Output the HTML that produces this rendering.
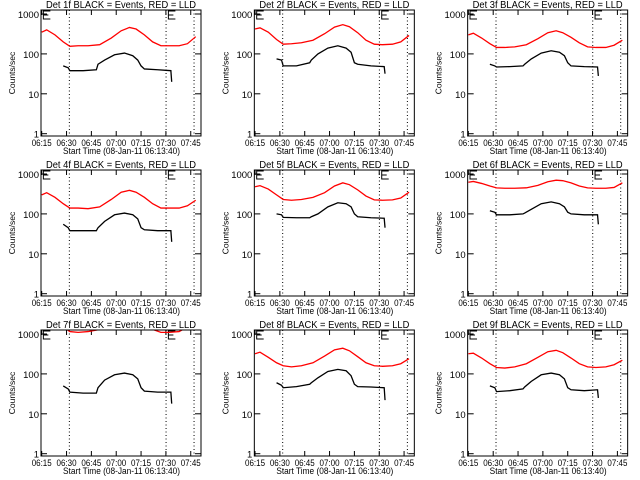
<!DOCTYPE html>
<html><head><meta charset="utf-8"><style>
html,body{margin:0;padding:0;background:#fff;}
svg{display:block;font-family:"Liberation Sans",sans-serif;}
</style></head><body>
<svg id="c" width="640" height="480" viewBox="0 0 640 480"></svg>
<script>
const detLabels = ["1f","2f","3f","4f","5f","6f","7f","8f","9f"];
const redTimes = [0,3,8,13,17,22,28,35,42,48,53,57,62,67,72,77,83,88,93];
const blackTimes = [13,16,17,25,33,34,38,44,50,55,58,60,62,70,78,78.5];
const red1 = [350,400,300,200,155,160,160,170,250,380,460,420,300,200,160,160,160,180,270];
const black1 = [50,45,38,38,40,55,70,95,105,90,70,50,42,40,38,20];
const red2 = [420,450,350,230,175,180,190,220,320,470,540,480,340,220,175,170,175,200,290];
const black2 = [75,70,50,50,60,70,100,140,160,140,110,60,55,50,48,32];
const red3 = [300,330,250,180,145,145,150,170,240,340,380,340,260,190,150,145,145,165,220];
const black3 = [55,50,47,48,50,55,75,105,120,110,90,60,50,48,47,28];
const red4 = [300,340,260,180,140,140,135,150,230,350,390,350,260,180,140,140,140,160,220];
const black4 = [55,45,38,38,38,45,65,95,105,95,75,45,40,38,38,20];
const red5 = [480,510,420,300,230,220,230,260,340,500,600,540,400,280,225,220,225,250,350];
const black5 = [100,95,82,80,80,85,100,150,190,180,150,100,85,80,78,45];
const red6 = [620,650,580,500,450,440,440,450,520,640,700,680,600,500,450,440,440,460,600];
const black6 = [120,110,95,95,100,105,130,180,200,180,150,110,100,95,95,55];
const red7 = [3000,3000,2000,1500,1150,1100,1150,1300,2000,3000,4000,3000,2000,1300,1100,1100,1150,1500,2500];
const black7 = [50,42,35,33,33,45,70,95,105,95,75,45,37,35,35,18];
const red8 = [320,350,260,190,160,150,160,190,280,400,440,380,270,190,160,155,160,180,240];
const black8 = [60,52,45,48,55,60,80,115,130,120,90,55,48,47,45,22];
const red9 = [320,330,250,180,145,140,150,180,260,360,390,340,250,180,150,145,150,170,220];
const black9 = [50,45,36,38,42,47,65,95,105,95,75,45,40,38,40,25];
const xTickMinutes = [0,15,30,45,60,75,90];
const xTickLabels = ["06:15","06:30","06:45","07:00","07:15","07:30","07:45"];
const yTickValues = [1,10,100,1000];
const yTickLabels = ["1","10","100","1000"];
const dottedMinutes = [16.7,75.1,92];
const eMarkMinutes = [1,76.5];

const reds=[red1,red2,red3,red4,red5,red6,red7,red8,red9];
const blacks=[black1,black2,black3,black4,black5,black6,black7,black8,black9];
const NS="http://www.w3.org/2000/svg";
const svg=document.getElementById('c');
function mk(tag,attrs,parent){const e=document.createElementNS(NS,tag);for(const k in attrs)e.setAttribute(k,attrs[k]);(parent||svg).appendChild(e);return e;}

for(let p=0;p<9;p++){
  const ox=(p%3)*213.33, oy=Math.floor(p/3)*160;
  const L=ox+41,R=ox+201,T=oy+10,B=oy+136;
  const xs=m=>ox+41.7+m*1.656;
  const ys=v=>oy+133.7-(Math.log10(v))*39.9;
  const g=mk('g',{});
  
  
  const cp=mk('clipPath',{id:'cp'+p},g);mk('rect',{x:L,y:T,width:R-L,height:B-T},cp);
  const t=mk('text',{x:(L+R)/2,y:oy+8,'text-anchor':'middle','font-size':10,textLength:150,lengthAdjust:'spacingAndGlyphs'},g);
  t.textContent='Det '+detLabels[p]+' BLACK = Events, RED = LLD';
  
  
  const yl=mk('text',{x:0,y:0,'text-anchor':'middle','font-size':8.5,transform:`translate(${ox+15},${oy+73}) rotate(-90)`},g);
  yl.textContent='Counts/sec';
  
  
  const xl=mk('text',{x:ox+121.5,y:oy+154,'text-anchor':'middle','font-size':9,textLength:117,lengthAdjust:'spacingAndGlyphs'},g);
  xl.textContent='Start Time (08-Jan-11 06:13:40)';
  
  
  xTickMinutes.forEach((m,i)=>{const x=xs(m);
    mk('line',{x1:x,x2:x,y1:B,y2:B-5,stroke:'#000'},g);
    mk('line',{x1:x,x2:x,y1:T,y2:T+5,stroke:'#000'},g);
    const tl=mk('text',{x:x,y:oy+146,'text-anchor':'middle','font-size':9,textLength:20,lengthAdjust:'spacingAndGlyphs'},g);
    tl.textContent=xTickLabels[i];
    
    
  });
  yTickValues.forEach((v,i)=>{const y=ys(v);
    mk('line',{x1:L,x2:L+6,y1:y,y2:y,stroke:'#000'},g);
    mk('line',{x1:R,x2:R-6,y1:y,y2:y,stroke:'#000'},g);
    const tl=mk('text',{x:L-2,y:y+4,'text-anchor':'end','font-size':9.5},g);
    tl.textContent=yTickLabels[i];
    
    
  });
  dottedMinutes.forEach(m=>{const x=xs(m);
    const d=mk('line',{x1:x,x2:x,y1:T,y2:B,stroke:'#000','stroke-dasharray':'1,2.5'},g);
    
    
  });
  eMarkMinutes.forEach(m=>{const x=xs(m);
    const e=mk('path',{d:`M${x+7},${T+1}H${x}V${T+9}H${x+7}M${x},${T+5}H${x+5}`,fill:'none',stroke:'#000'},g);
    
    
  });
  const rp=mk('polyline',{points:redTimes.map((m,i)=>xs(m)+','+ys(reds[p][i])).join(' '),fill:'none',stroke:'#f00','stroke-width':1.3,'clip-path':`url(#cp${p})`},g);
  
  
  const bp=mk('polyline',{points:blackTimes.map((m,i)=>xs(m)+','+ys(blacks[p][i])).join(' '),fill:'none',stroke:'#000','stroke-width':1.3,'clip-path':`url(#cp${p})`},g);
  
  
  const fr=mk('rect',{x:L,y:T,width:R-L,height:B-T,fill:'none',stroke:'#000'},g);
  
  
}
</script>
</body></html>
